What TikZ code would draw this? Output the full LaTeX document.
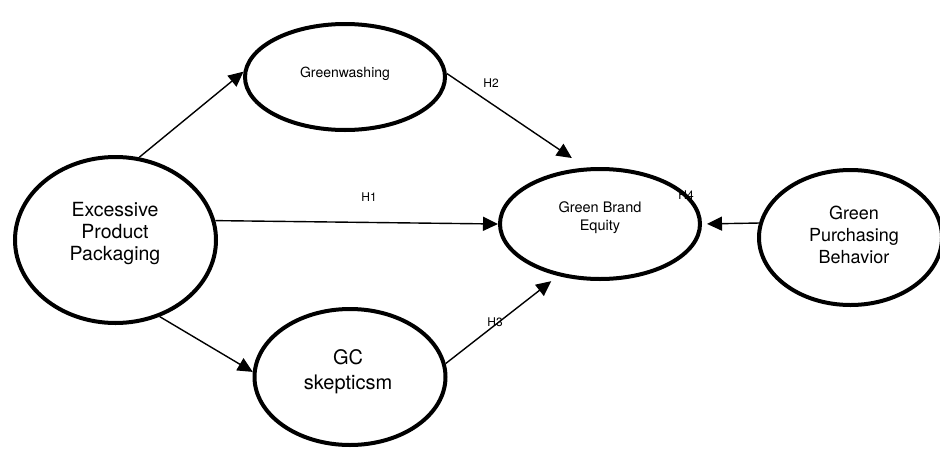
\documentclass[tikz,border=0pt]{standalone}
\usepackage{fontspec}
\setmainfont{TeX Gyre Heros}
\usetikzlibrary{shapes.geometric,arrows.meta}

\begin{document}
\begin{tikzpicture}[x=1pt, y=-1pt,
    construct/.style={draw, ellipse, line width=4pt, inner sep=0pt},
    caption/.style={align=center, inner sep=0pt},
    hyp/.style={font=\fontsize{12}{14}\selectfont, inner sep=0pt},
    link/.style={-{Triangle[length=15pt, width=14pt]}, line width=1.4pt}]

    \useasboundingbox (0,0) rectangle (940,453);

    % hypothesis labels (drawn first, the ellipse border runs over H4)
    \node[hyp] (H1) at (369,197) {H1};
    \node[hyp] (H2) at (491,83) {H2};
    \node[hyp] (H3) at (495,322) {H3};
    \node[hyp] (H4) at (686,195) {H4};

    % constructs
    \node[construct, minimum width=201pt, minimum height=166pt] (Packaging) at (115.5,240) {};
    \node[construct, minimum width=200pt, minimum height=106pt] (Greenwashing) at (345,77) {};
    \node[construct, minimum width=200pt, minimum height=110pt] (BrandEquity) at (600,224) {};
    \node[construct, minimum width=183pt, minimum height=135pt] (Purchasing) at (850.5,237.5) {};
    \node[construct, minimum width=191pt, minimum height=136pt] (Skepticism) at (350,377) {};

    \node[caption, font=\fontsize{19.5}{22.3}\selectfont] (PackagingText) at (115,233.4) {Excessive\\Product\\Packaging};
    \node[caption, font=\fontsize{14}{17}\selectfont] (GreenwashingText) at (345,74) {Greenwashing};
    \node[caption, font=\fontsize{14.5}{18}\selectfont] (BrandEquityText) at (600,217.3) {Green Brand\\Equity};
    \node[caption, font=\fontsize{18}{22}\selectfont] (PurchasingText) at (854,234.5) {Green\\Purchasing\\Behavior};
    \node[caption, font=\fontsize{20}{25}\selectfont] (SkepticismText) at (348,371.5) {GC\\skepticsm};

    \foreach \from/\to/\gap in {
        Packaging.74/Greenwashing.177/0pt, Packaging.-60/Skepticism.177/0pt,
        Packaging.11.6/BrandEquity.west/0pt, Greenwashing.2/BrandEquity.104/17pt,
        Skepticism.8.3/BrandEquity.231/8.5pt, Purchasing.171/BrandEquity.east/5pt}
    \draw [link, shorten >=\gap] (\from)--(\to);

\end{tikzpicture}
\end{document}
